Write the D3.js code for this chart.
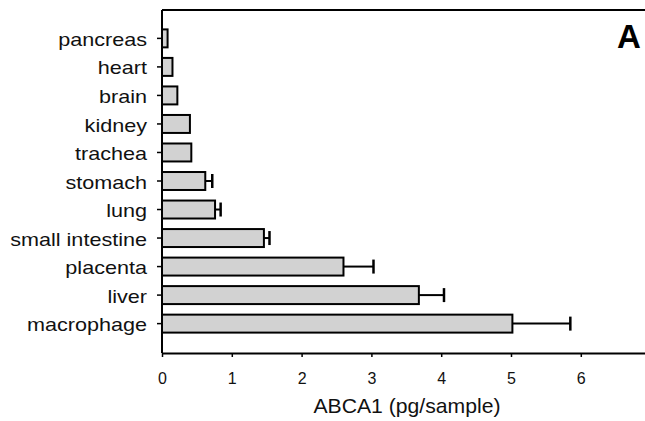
<!DOCTYPE html>
<html>
<head>
<meta charset="utf-8">
<script src="https://cdn.jsdelivr.net/npm/d3@7"></script>
<style>
  body { margin: 0; background: #fff; }
  svg { display: block; font-family: "Liberation Sans", Arial, sans-serif; }
</style>
</head>
<body>
<div id="chart"></div>
<script>
'use strict';

// tissues from top to bottom
const tissues = ["pancreas", "heart", "brain", "kidney", "trachea", "stomach",
    "lung", "small intestine", "placenta", "liver", "macrophage"];
// mean ABCA1 (pg/sample)
const values = [0.08, 0.15, 0.22, 0.40, 0.42, 0.62, 0.76, 1.46, 2.60, 3.68, 5.02];
// error bar length (upper side only)
const errors = [0, 0, 0, 0, 0, 0.10, 0.08, 0.08, 0.43, 0.36, 0.83];
const xTicks = [0, 1, 2, 3, 4, 5, 6];

const width = 645;
const height = 421;
const margin = { top: 10, bottom: 68, left: 162, right: 0 };

const svg = d3.select("#chart")
    .append("svg")
    .attr("width", width)
    .attr("height", height);

const xScale = d3.scaleLinear()
    .domain([0, 7])
    .range([margin.left, margin.left + 7 * 69.8]);

const yScale = d3.scaleBand()
    .domain(tissues)
    .range([margin.top, height - margin.bottom - 1])
    .paddingInner(0.37)
    .paddingOuter(0.68);

const rows = tissues.map((t, i) => ({ name: t, value: values[i], err: errors[i] }));

// top frame line
svg.append("line")
    .attr("x1", margin.left).attr("x2", width)
    .attr("y1", margin.top).attr("y2", margin.top)
    .attr("stroke", "#000").attr("stroke-width", 2);

// error bars (drawn under bars)
const eb = svg.append("g").attr("class", "errors")
    .selectAll("g")
    .data(rows.filter(d => d.err > 0))
    .join("g");

eb.append("line")
    .attr("x1", d => xScale(d.value))
    .attr("x2", d => xScale(d.value + d.err))
    .attr("y1", d => yScale(d.name) + yScale.bandwidth() / 2)
    .attr("y2", d => yScale(d.name) + yScale.bandwidth() / 2)
    .attr("stroke", "#000").attr("stroke-width", 2);

eb.append("line")
    .attr("x1", d => xScale(d.value + d.err))
    .attr("x2", d => xScale(d.value + d.err))
    .attr("y1", d => yScale(d.name) + yScale.bandwidth() / 2 - 7)
    .attr("y2", d => yScale(d.name) + yScale.bandwidth() / 2 + 7)
    .attr("stroke", "#000").attr("stroke-width", 2.5);

// bars
svg.append("g").attr("class", "bars")
    .selectAll("rect")
    .data(rows)
    .join("rect")
    .attr("x", xScale(0))
    .attr("y", d => yScale(d.name))
    .attr("width", d => xScale(d.value) - xScale(0))
    .attr("height", yScale.bandwidth())
    .attr("fill", "#d2d2d2")
    .attr("stroke", "#000")
    .attr("stroke-width", 2);

// x axis
const xAxis = d3.axisBottom(xScale)
    .tickValues(xTicks)
    .tickFormat(d3.format("d"))
    .tickSize(4)
    .tickSizeOuter(0)
    .tickPadding(16);

const gx = svg.append("g")
    .attr("class", "axis x-axis")
    .attr("transform", `translate(0, ${height - margin.bottom})`)
    .call(xAxis);
gx.select(".domain").attr("stroke-width", 2);
gx.selectAll(".tick line").attr("stroke-width", 1.5);
gx.selectAll(".tick text")
    .attr("font-size", 16)
    .attr("fill", "#111");

svg.append("text")
    .attr("x", 407)
    .attr("y", 413)
    .attr("text-anchor", "middle")
    .attr("font-size", 20)
    .attr("fill", "#111")
    .attr("transform", "translate(407,0) scale(1.06,1) translate(-407,0)")
    .text("ABCA1 (pg/sample)");

// y axis
const yAxis = d3.axisLeft(yScale)
    .tickSize(5)
    .tickSizeOuter(0)
    .tickPadding(10);

const gy = svg.append("g")
    .attr("class", "axis y-axis")
    .attr("transform", `translate(${margin.left},0)`)
    .call(yAxis);
gy.select(".domain")
    .attr("d", `M0,${margin.top}V${height - margin.bottom}`)
    .attr("stroke-width", 2);
gy.selectAll(".tick line").attr("stroke-width", 1.5);
gy.selectAll(".tick text")
    .attr("font-size", 18)
    .attr("fill", "#111")
    .attr("x", -15 / 1.2)
    .attr("dy", "0.42em")
    .attr("transform", "scale(1.2,1)");

// panel letter
svg.append("text")
    .attr("x", 629)
    .attr("y", 48)
    .attr("text-anchor", "middle")
    .attr("font-size", 33)
    .attr("font-weight", "bold")
    .text("A");
</script>
</body>
</html>
